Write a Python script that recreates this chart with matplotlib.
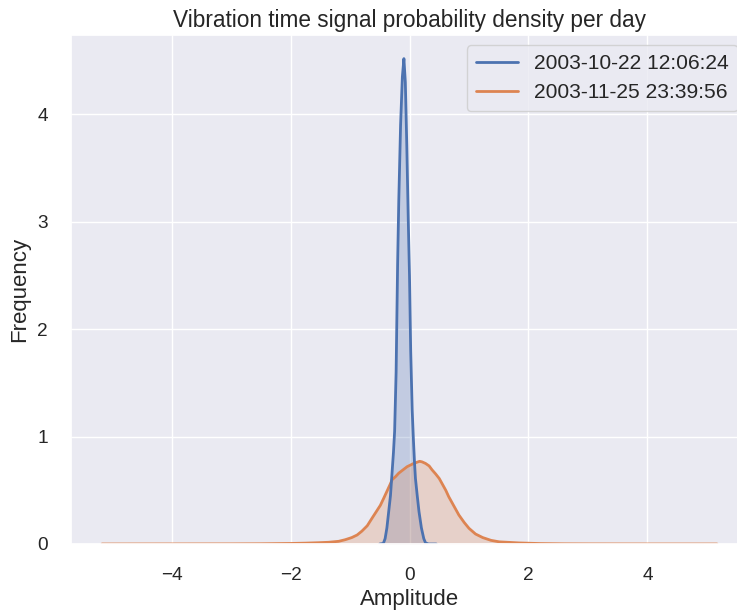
import numpy as np
import matplotlib
matplotlib.use("Agg")
import matplotlib.pyplot as plt
import seaborn as sns

# ---- data ----
labels = ["2003-10-22 12:06:24", "2003-11-25 23:39:56"]

blue_x = [-0.50, -0.44, -0.41, -0.38, -0.35, -0.32, -0.30, -0.27, -0.25, -0.225,
          -0.20, -0.18, -0.15, -0.12, -0.094, -0.07, -0.045, -0.02, 0.0, 0.02,
          0.045, 0.065, 0.085, 0.10, 0.13, 0.16, 0.20, 0.24, 0.27, 0.32, 0.45]
blue_y = [0.0, 0.005, 0.05, 0.15, 0.30, 0.45, 0.61, 0.85, 1.05, 1.6,
          2.6, 3.2, 3.9, 4.35, 4.52, 4.3, 3.7, 3.0, 2.5, 1.8,
          1.25, 0.98, 0.75, 0.61, 0.45, 0.30, 0.15, 0.05, 0.01, 0.0, 0.0]

orange_x = [-5.17, -4.0, -3.0, -2.5, -2.0, -1.75, -1.53, -1.36, -1.19, -1.08,
            -0.97, -0.88, -0.80, -0.71, -0.63, -0.56, -0.49, -0.43, -0.38, -0.33,
            -0.29, -0.235, -0.18, -0.11, -0.04, 0.07, 0.17, 0.21, 0.27, 0.33,
            0.38, 0.44, 0.50, 0.55, 0.61, 0.66, 0.72, 0.78, 0.83, 0.92,
            1.0, 1.11, 1.23, 1.37, 1.51, 1.68, 1.84, 2.2, 2.6, 3.0,
            4.0, 5.17]
orange_y = [0.0, 0.0005, 0.001, 0.002, 0.005, 0.008, 0.012, 0.016, 0.025, 0.04,
            0.06, 0.084, 0.12, 0.17, 0.24, 0.30, 0.36, 0.43, 0.49, 0.55,
            0.60, 0.627, 0.66, 0.69, 0.72, 0.75, 0.77, 0.765, 0.75, 0.727,
            0.69, 0.652, 0.61, 0.56, 0.50, 0.44, 0.38, 0.32, 0.27, 0.20,
            0.146, 0.093, 0.06, 0.034, 0.02, 0.015, 0.01, 0.004, 0.0015, 0.0008,
            0.0002, 0.0]

xticks = [-4, -2, 0, 2, 4]
yticks = [0, 1, 2, 3, 4]

# ---- style ----
sns.set_theme(style="darkgrid")
plt.rcParams['font.family'] = ['Liberation Sans', 'DejaVu Sans']

colors = sns.color_palette("deep")
c_blue, c_orange = colors[0], colors[1]

fig = plt.figure(figsize=(7.37, 6.12), dpi=100)
ax = fig.add_axes([71 / 737, 68 / 612, (748 - 71) / 737, (544 - 35) / 612])

ax.fill_between(blue_x, blue_y, color=c_blue, alpha=0.25, linewidth=0)
ax.fill_between(orange_x, orange_y, color=c_orange, alpha=0.25, linewidth=0)
ax.plot(orange_x, orange_y, color=c_orange, lw=2, label=labels[1])
ax.plot(blue_x, blue_y, color=c_blue, lw=2, label=labels[0])

ax.set_xlim(-5.69, 5.69)
ax.set_ylim(0, 4.74)
ax.set_xticks(xticks)
ax.set_yticks(yticks)
ax.tick_params(labelsize=13.7, pad=10.5)

ax.set_xlabel("Amplitude", fontsize=16, labelpad=4)
ax.set_ylabel("Frequency", fontsize=16, labelpad=5)
ax.set_title("Vibration time signal probability density per day", fontsize=16.3, pad=6)

h, l = ax.get_legend_handles_labels()
ax.legend([h[1], h[0]], [l[1], l[0]], loc="upper right", fontsize=15.1)

fig.savefig("out.png", dpi=100)
